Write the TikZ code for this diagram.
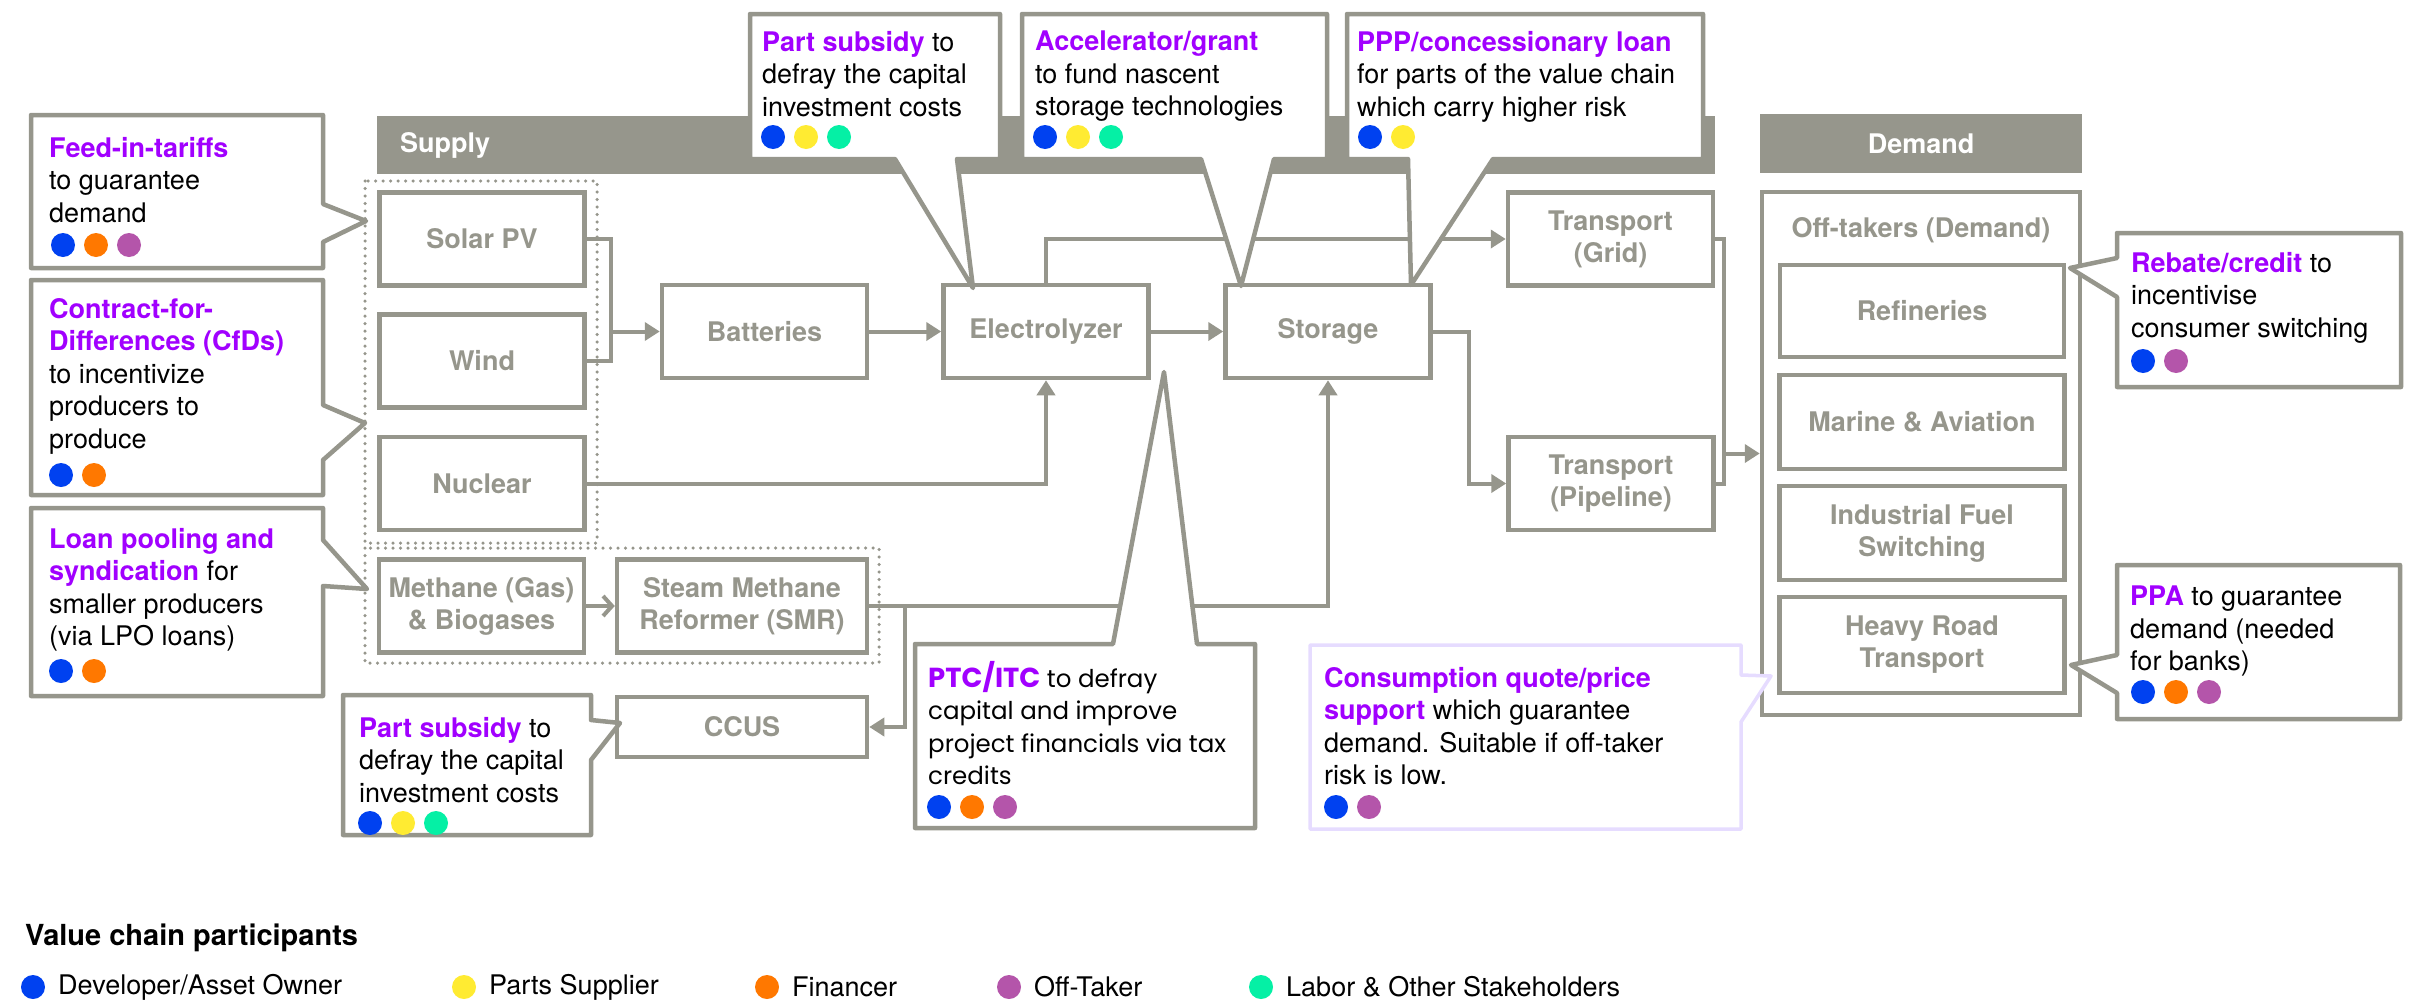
\documentclass[tikz,border=0pt]{standalone}
\usepackage{fontspec}
\setmainfont{TeX Gyre Heros}
\newfontfamily\ptcfont{Poppins}
\usetikzlibrary{arrows.meta}
\definecolor{chaingrey}{RGB}{150,150,140}
\definecolor{policy}{RGB}{161,0,255}
\definecolor{devblue}{RGB}{0,65,240}
\definecolor{partyellow}{RGB}{255,235,50}
\definecolor{finorange}{RGB}{255,120,0}
\definecolor{offpurple}{RGB}{180,85,170}
\definecolor{laborgreen}{RGB}{5,240,165}
\definecolor{quotelilac}{RGB}{230,220,255}

\begin{document}
\begin{tikzpicture}[x=1pt,y=1pt,yscale=-1,xscale=1,
  box/.style={draw=chaingrey, line width=4.5pt, fill=white, text=chaingrey, align=center,
    font=\fontsize{27}{32}\selectfont\bfseries, minimum width=205pt, minimum height=93pt, inner sep=0pt},
  link/.style={draw=chaingrey, line width=4pt},
  flow/.style={link, -{Triangle[length=15pt,width=18pt]}},
  barb/.style={link, -{Straight Barb[length=9pt,width=20pt]}},
  group/.style={draw=chaingrey, line width=3.5pt, dash pattern=on 0pt off 7.5pt, line cap=round},
  callout/.style={draw=chaingrey, line width=4.5pt, fill=white, line join=round},
  note/.style={anchor=north west, inner sep=0pt, align=left, font=\fontsize{27}{32.5}\selectfont},
  banner/.style={text=white, inner sep=0pt, font=\fontsize{27}{32}\selectfont\bfseries}]
\useasboundingbox (0,0) rectangle (2417,1004);

%Header bars
\fill[chaingrey] (377,116) rectangle (1715,174);
\fill[chaingrey] (1760,114) rectangle (2082,173);
% Text Node
\node[banner, anchor=west] (supply) at (400,145) {Supply};
\node[banner] (demand) at (1921,144) {Demand};

%Dotted groups
\draw[group] (365,181) rectangle (597,543);
\draw[group] (365,548) rectangle (879,663);

%Flowchart: Process
\node[box] (solar) at (482,239) {Solar PV};
\node[box] (wind) at (482,361) {Wind};
\node[box] (nuclear) at (482,483.5) {Nuclear};
\node[box] (methane) at (481.5,606) {Methane (Gas)\\\& Biogases};
\node[box, minimum width=250pt] (smr) at (742,606) {Steam Methane\\Reformer (SMR)};
\node[box, minimum width=250pt, minimum height=60pt] (ccus) at (742,727) {CCUS};
\node[box] (batteries) at (764.5,331.5) {Batteries};
\node[box] (electrolyzer) at (1046,331.5) {Electrolyzer};
\node[box] (storage) at (1328,331.5) {Storage};
\node[box] (grid) at (1610.5,239) {Transport\\(Grid)};
\node[box] (pipeline) at (1611,483.5) {Transport\\(Pipeline)};

%Off-takers
\node[box, minimum width=318pt, minimum height=523pt] (offtakers) at (1921,453.5) {};
\node[text=chaingrey, font=\fontsize{27}{32}\selectfont\bfseries] (offlabel) at (1921,230) {Off-takers (Demand)};
\node[box, minimum width=284pt, minimum height=92pt] (refineries) at (1922,311) {Refineries};
\node[box, minimum width=285pt, minimum height=94pt] (marine) at (1922,422) {Marine \& Aviation};
\node[box, minimum width=285pt, minimum height=94pt] (industrial) at (1922,533) {Industrial Fuel\\Switching};
\node[box, minimum width=285pt, minimum height=96pt] (heavyroad) at (1922,645) {Heavy Road\\Transport};

%Straight Lines
\coordinate (pvjoin) at (611,331.5);
\draw[link] (solar.east) -| (pvjoin) |- (wind.east);
\draw[flow] (pvjoin) -- (batteries.west);
\draw[flow] (batteries) -- (electrolyzer);
\draw[flow] (electrolyzer) -- (storage);
\draw[flow] (electrolyzer.north) |- (grid.west);
\draw[flow] (nuclear.east) -| (electrolyzer.south);
\draw[barb] (methane) -- (smr);
\draw[flow] (smr.east) -| (storage.south);
\coordinate (smrsplit) at (905,606);
\draw[flow] (smrsplit) |- (ccus.east);
\draw[flow] (storage.east) -- ++(36,0) |- (pipeline.west);
\coordinate (tpjoin) at (1724,453.5);
\draw[link] (grid.east) -| (tpjoin) |- (pipeline.east);
\draw[flow] (tpjoin) -- (offtakers.west);

%Callout: Feed-in-tariffs
\draw[callout] (31,115) -- (323,115) -- (323,204) -- (366,221) -- (323,242) -- (323,268) -- (31,268) -- cycle;
%Callout: CfDs
\draw[callout] (31,280) -- (323,280) -- (323,405) -- (365,423) -- (323,460) -- (323,495) -- (31,495) -- cycle;
%Callout: Loan pooling
\draw[callout] (31,508) -- (323,508) -- (323,540) -- (367,589) -- (323,586) -- (323,696) -- (31,696) -- cycle;
%Callout: Part subsidy (CCUS)
\draw[callout] (343,695) -- (591,695) -- (591,720) -- (620,723) -- (591,760) -- (591,835) -- (343,835) -- cycle;
%Callout: Part subsidy (Electrolyzer)
\draw[callout] (750,14) -- (1000,14) -- (1000,159) -- (957,159) -- (973,288) -- (895,159) -- (750,159) -- cycle;
%Callout: Accelerator/grant
\draw[callout] (1022,14) -- (1327,14) -- (1327,159) -- (1274,159) -- (1241,286) -- (1201,159) -- (1022,159) -- cycle;
%Callout: PPP
\draw[callout] (1347,14) -- (1703,14) -- (1703,159) -- (1493,159) -- (1411,285) -- (1408,159) -- (1347,159) -- cycle;
%Callout: PTC/ITC
\draw[callout] (915,644) -- (1113,644) -- (1164,372) -- (1197,644) -- (1255,644) -- (1255,828) -- (915,828) -- cycle;
%Callout: Rebate/credit
\draw[callout] (2117,233) -- (2401,233) -- (2401,387) -- (2117,387) -- (2117,297) -- (2070,268) -- (2117,258) -- cycle;
%Callout: PPA
\draw[callout] (2117,565) -- (2400,565) -- (2400,719) -- (2117,719) -- (2117,693) -- (2071,665) -- (2117,655) -- cycle;
%Callout: Consumption quote
\draw[callout, draw=quotelilac, line width=3.5pt] (1310,645) -- (1741,645) -- (1741,675) -- (1771,676) -- (1741,722) -- (1741,829) -- (1310,829) -- cycle;

% Text Node
\node[note] (feedtxt) at (49,137) {\textcolor{policy}{\textbf{Feed-in-tariffs}}\\to guarantee\\demand};
\node[note] (cfdtxt) at (49,298) {\textcolor{policy}{\textbf{Contract-for-}}\\\textcolor{policy}{\textbf{Differences (CfDs)}}\\to incentivize\\producers to\\produce};
\node[note] (loantxt) at (49,528) {\textcolor{policy}{\textbf{Loan pooling and}}\\\textcolor{policy}{\textbf{syndication}} for\\smaller producers\\(via LPO loans)};
\node[note] (ccustxt) at (359,717) {\textcolor{policy}{\textbf{Part subsidy}} to\\defray the capital\\investment costs};
\node[note] (subsidytxt) at (762,31) {\textcolor{policy}{\textbf{Part subsidy}} to\\defray the capital\\investment costs};
\node[note] (granttxt) at (1035,31) {\textcolor{policy}{\textbf{Accelerator/grant}}\\to fund nascent\\storage technologies};
\node[note] (ppptxt) at (1357,31) {\textcolor{policy}{\textbf{PPP/concessionary loan}}\\for parts of the value chain\\which carry higher risk};
\node[note, font=\ptcfont\fontsize{24.5}{32.5}\selectfont] (ptctxt) at (928,661) {\textcolor{policy}{\fontsize{27.5}{32.5}\selectfont\textbf{PTC/ITC}} to defray\\capital and improve\\project financials via tax\\credits};
\node[note] (rebatetxt) at (2131,252) {\textcolor{policy}{\textbf{Rebate/credit}} to\\incentivise\\consumer switching};
\node[note] (ppatxt) at (2130,586) {\textcolor{policy}{\textbf{PPA}} to guarantee\\demand (needed\\for banks)};
\node[note] (quotetxt) at (1324,667) {\textcolor{policy}{\textbf{Consumption quote/price}}\\\textcolor{policy}{\textbf{support}} which guarantee\\demand. Suitable if off-taker\\risk is low.};

%Participant dots
\foreach \c [count=\i from 0] in {devblue,finorange,offpurple} \fill[\c] (63+33*\i,245) circle (12pt);
\foreach \c [count=\i from 0] in {devblue,finorange} \fill[\c] (61+33*\i,475) circle (12pt);
\foreach \c [count=\i from 0] in {devblue,finorange} \fill[\c] (61+33*\i,671) circle (12pt);
\foreach \c [count=\i from 0] in {devblue,partyellow,laborgreen} \fill[\c] (370+33*\i,823) circle (12pt);
\foreach \c [count=\i from 0] in {devblue,partyellow,laborgreen} \fill[\c] (773+33*\i,137) circle (12pt);
\foreach \c [count=\i from 0] in {devblue,partyellow,laborgreen} \fill[\c] (1045+33*\i,137) circle (12pt);
\foreach \c [count=\i from 0] in {devblue,partyellow} \fill[\c] (1370+33*\i,137) circle (12pt);
\foreach \c [count=\i from 0] in {devblue,finorange,offpurple} \fill[\c] (939+33*\i,807) circle (12pt);
\foreach \c [count=\i from 0] in {devblue,offpurple} \fill[\c] (2143+33*\i,361) circle (12pt);
\foreach \c [count=\i from 0] in {devblue,finorange,offpurple} \fill[\c] (2143+33*\i,692) circle (12pt);
\foreach \c [count=\i from 0] in {devblue,offpurple} \fill[\c] (1336+33*\i,807) circle (12pt);

%Legend
\node[anchor=west, inner sep=0pt, font=\fontsize{29}{34}\selectfont\bfseries] (legendtitle) at (25,938) {Value chain participants};
\foreach \x/\c/\t [count=\i] in {33/devblue/{Developer/Asset Owner}, 464/partyellow/{Parts Supplier}, 767/finorange/{Financer}, 1009/offpurple/{Off-Taker}, 1261/laborgreen/{Labor \& Other Stakeholders}} {
  \fill[\c] (\x,987) circle (12pt);
  \node[anchor=west, inner sep=0pt, font=\fontsize{27}{32}\selectfont] (legend\i) at (\x+25,987) {\t};
}

\end{tikzpicture}
\end{document}
